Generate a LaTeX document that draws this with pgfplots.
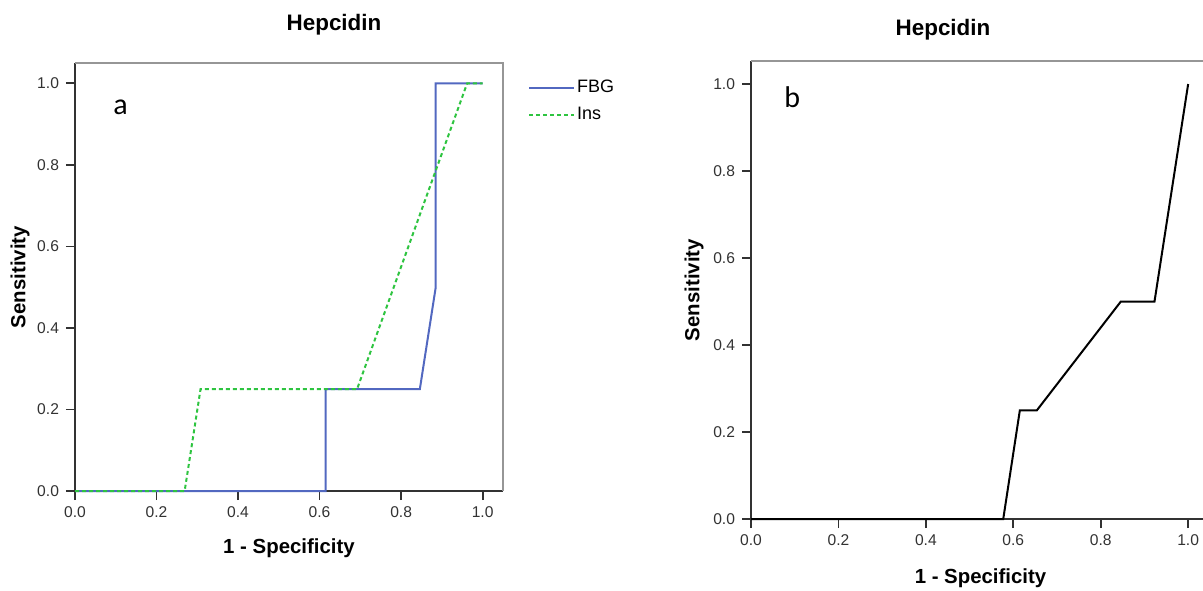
\documentclass[border=0pt]{standalone}
\usepackage{pgfplots}
\pgfplotsset{compat=1.18}
\usepackage{fontspec}
\setmainfont{Liberation Sans}
\newfontfamily\panelfont{Carlito}

\definecolor{fbgblue}{RGB}{82,104,192}
\definecolor{insgreen}{RGB}{46,196,64}
\definecolor{axgray}{RGB}{50,50,50}
\definecolor{boxgray}{RGB}{150,150,150}

\pgfplotsset{
  rocstyle/.style={
    scale only axis,
    xmin=0, ymin=0,
    axis x line*=bottom, axis y line*=left,
    axis line style={axgray, line width=1.1pt},
    xtick={0,0.2,0.4,0.6,0.8,1}, ytick={0,0.2,0.4,0.6,0.8,1},
    tick align=outside, major tick length=4.5pt,
    tick style={axgray, line width=0.9pt},
    tick label style={font=\fontsize{7.8}{9}\selectfont, text=axgray,
      /pgf/number format/fixed, /pgf/number format/fixed zerofill,
      /pgf/number format/precision=1, /pgf/number format/assume math mode=true},
    xlabel={1 - Specificity}, ylabel={Sensitivity},
    label style={font=\fontsize{10.2}{12}\selectfont\bfseries},
    clip=false,
  }
}

\begin{document}
\begin{tikzpicture}
% panel a
\begin{axis}[rocstyle,
    at={(37.5pt,49.5pt)}, anchor=south west,
    width=214pt, height=214pt,
    xmax=1.05, ymax=1.05,
    xlabel style={at={(axis description cs:0.5,-0.133)}, anchor=center},
    ylabel style={at={(axis description cs:-0.128,0.5)}, anchor=center},
    legend style={draw=none, fill=none, at={(axis description cs:1.058,0.965)},
      anchor=north west, font=\fontsize{9}{10}\selectfont, inner sep=0pt,
      row sep=3.5pt, nodes={inner sep=1pt}},
    legend image code/.code={\draw[#1] (0pt,0pt) -- (22.5pt,0pt);},
    legend cell align=left,
  ]
  \addplot[fbgblue, line width=1pt] coordinates {
    (0,0) (0.615,0) (0.615,0.25) (0.846,0.25) (0.885,0.5) (0.885,1) (1,1)};
  \addplot[insgreen, line width=1pt, dash pattern=on 2pt off 1.5pt] coordinates {
    (0,0) (0.269,0) (0.308,0.25) (0.692,0.25) (0.962,1) (1,1)};
  \legend{FBG,Ins}
  \draw[boxgray, line width=0.8pt] (rel axis cs:0,1) -- (rel axis cs:1,1) -- (rel axis cs:1,0);
\end{axis}

% panel b
\begin{axis}[rocstyle,
    at={(375.5pt,35.5pt)}, anchor=south west,
    width=229.5pt, height=229pt,
    xmax=1.05, ymax=1.053,
    xlabel style={at={(axis description cs:0.5,-0.129)}, anchor=center},
    ylabel style={at={(axis description cs:-0.124,0.5)}, anchor=center},
  ]
  \addplot[black, line width=1pt] coordinates {
    (0,0) (0.577,0) (0.615,0.25) (0.654,0.25) (0.846,0.5) (0.923,0.5) (1,1)};
  \draw[boxgray, line width=0.8pt] (rel axis cs:0,1) -- (rel axis cs:1,1) -- (rel axis cs:1,0);
\end{axis}

\node[font=\fontsize{11.2}{13}\selectfont\bfseries] at (167pt,282.5pt) {Hepcidin};
\node[font=\fontsize{11.2}{13}\selectfont\bfseries] at (471.5pt,280pt) {Hepcidin};
\node[font=\panelfont\fontsize{15}{17}\selectfont, anchor=base west, inner sep=0pt] at (56.5pt,237.5pt) {a};
\node[font=\panelfont\fontsize{15}{17}\selectfont, anchor=base west, inner sep=0pt] at (392pt,241pt) {b};

\pgfresetboundingbox
\path[use as bounding box] (0,0) rectangle (601.5pt,295pt);
\end{tikzpicture}
\end{document}
